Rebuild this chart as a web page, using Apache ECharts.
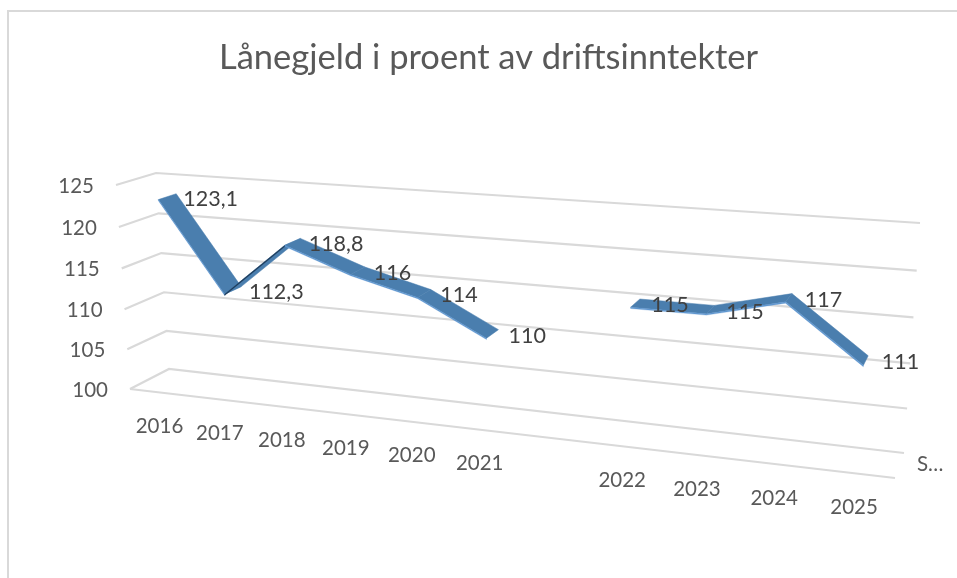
<!DOCTYPE html>
<html>
<head>
<meta charset="utf-8">
<style>html,body{margin:0;padding:0;background:#fff}#c{width:957px;height:578px}</style>
<script src="https://cdn.jsdelivr.net/npm/echarts@6/dist/echarts.min.js"></script>
</head>
<body>
<div id="c"></div>
<script>
// ---- data ----
const chartTitle = 'Lånegjeld i proent av driftsinntekter';
const seriesName = 'S…';
const categories = ['2016','2017','2018','2019','2020','2021','','2022','2023','2024','2025'];
const values = [123.1,112.3,118.8,116,114,110,null,115,115,117,111];
const yTicks = [100,105,110,115,120,125];

// ---- perspective box: [back plane, front plane], corners TL, TR, BR, BL ----
const backPlane  = [[156,173],[920,223],[904,453],[169,369]];
const frontPlane = [[116,185],[912,238],[895,478],[130,389]];
const RIBBON_BACK = 0.26, RIBBON_FRONT = 0.72;
const FONT = 'Lato';

function project(s, t, depth) {
  const q = backPlane.map((p, i) => [
    p[0] + (frontPlane[i][0] - p[0]) * depth,
    p[1] + (frontPlane[i][1] - p[1]) * depth
  ]);
  const [x0,y0] = q[0], [x1,y1] = q[1], [x2,y2] = q[2], [x3,y3] = q[3];
  const dx1=x1-x2, dx2=x3-x2, sx=x0-x1+x2-x3;
  const dy1=y1-y2, dy2=y3-y2, sy=y0-y1+y2-y3;
  const den=dx1*dy2-dx2*dy1;
  const g=(sx*dy2-dx2*sy)/den, h=(dx1*sy-sx*dy1)/den;
  const a=x1-x0+g*x1, b=x3-x0+h*x3, d=y1-y0+g*y1, e=y3-y0+h*y3;
  const w=g*s+h*t+1;
  return [(a*s+b*t+x0)/w, (d*s+e*t+y0)/w];
}
// axis scale -> unit square of the box
function unit(api, params, cat, val) {
  const cs = params.coordSys, p = api.coord([cat, val]);
  return [(p[0]-cs.x)/cs.width, (p[1]-cs.y)/cs.height];
}
const gridSeries = {
  type:'custom', name:'grid', coordinateSystem:'cartesian2d', silent:true, z:1,
  data: yTicks.map(v => [0, v]),
  renderItem(params, api) {
    const v = api.value(1), t = unit(api, params, 0, v)[1];
    const style = {stroke:'#d9d9d9', lineWidth:2.2, fill:null};
    const fl = project(0,t,1), bl = project(0,t,0), br = project(1,t,0);
    const kids = [{type:'polyline', shape:{points:[fl,bl,br]}, style}];
    if (v === yTicks[0]) kids.push({type:'line', shape:{x1:fl[0],y1:fl[1],x2:project(1,t,1)[0],y2:project(1,t,1)[1]}, style});
    kids.push({type:'text', style:{text:String(v), x:fl[0]-22, y:fl[1]+1, align:'right', verticalAlign:'middle', font:'20.5px '+FONT, fill:'#595959'}});
    return {type:'group', children:kids};
  }
};
const catSeries = {
  type:'custom', name:'cats', coordinateSystem:'cartesian2d', silent:true, z:2,
  data: categories.map((c,i) => [i, yTicks[0]]),
  renderItem(params, api) {
    const i = api.value(0), u = unit(api, params, i, yTicks[0]);
    const p = project(u[0], u[1], 1);
    return {type:'text', style:{text:categories[i], x:p[0], y:p[1]+34, align:'center', verticalAlign:'middle', font:'20.5px '+FONT, fill:'#595959'}};
  }
};
const ribbonData = [];
values.forEach((v,i) => { if (v!==null && values[i+1]!=null) ribbonData.push([i, v, i+1, values[i+1]]); });
const ribbonSeries = {
  type:'custom', name:seriesName, coordinateSystem:'cartesian2d', silent:true, z:3,
  data: ribbonData,
  renderItem(params, api) {
    const i=api.value(0), v=api.value(1), j=api.value(2), w=api.value(3);
    const a=unit(api,params,i,v), b=unit(api,params,j,w);
    const a2=unit(api,params,i,v-0.15), b2=unit(api,params,j,w-0.15);
    const fa=project(a[0],a[1],RIBBON_FRONT), fb=project(b[0],b[1],RIBBON_FRONT);
    const ba=project(a[0],a[1],RIBBON_BACK), bb=project(b[0],b[1],RIBBON_BACK);
    const la=project(a2[0],a2[1],RIBBON_FRONT), lb=project(b2[0],b2[1],RIBBON_FRONT);
    const side = (w-v) > 3 ? '#1c3a58' : '#5f97d0';
    return {type:'group', children:[
      {type:'polygon', shape:{points:[ba,bb,fb,fa]}, style:{fill:'#4a7eae', stroke:'#4a7eae', lineWidth:0.5}},
      {type:'polygon', shape:{points:[fa,fb,lb,la]}, style:{fill:side, stroke:side, lineWidth:0.3}}
    ]};
  }
};
const labelSeries = {
  type:'custom', name:'labels', coordinateSystem:'cartesian2d', silent:true, z:4,
  data: values.map((v,i) => v===null ? null : [i,v]).filter(Boolean),
  renderItem(params, api) {
    const i=api.value(0), v=api.value(1), u=unit(api,params,i,v);
    const p=project(u[0],u[1],(RIBBON_BACK+RIBBON_FRONT)/2);
    return {type:'text', style:{text:String(v).replace('.',','), x:p[0]+16, y:p[1]+2, align:'left', verticalAlign:'middle', font:'21.5px '+FONT, fill:'#404040'}};
  }
};
const chart = echarts.init(document.getElementById('c'), null, {renderer:'canvas'});
chart.setOption({
  animation:false,
  backgroundColor:'#ffffff',
  title:{text:chartTitle, left:219, top:40, padding:0, textStyle:{fontFamily:FONT, fontSize:34.5, fontWeight:'normal', color:'#595959'}},
  legend:{data:[{name:seriesName, icon:'none'}], left:912, top:454, itemWidth:0, itemHeight:0, padding:0, selectedMode:false,
    textStyle:{fontFamily:FONT, fontSize:20.5, color:'#595959'}},
  grid:{left:100, right:60, top:170, bottom:100},
  xAxis:{type:'category', data:categories, show:false},
  yAxis:{type:'value', min:100, max:125, interval:5, show:false},
  graphic:[{type:'polyline', silent:true, shape:{points:[[8,578],[8,11],[957,11]]}, style:{stroke:'#d9d9d9', lineWidth:2, fill:null}}],
  series:[gridSeries, catSeries, ribbonSeries, labelSeries]
});
</script>
</body>
</html>
